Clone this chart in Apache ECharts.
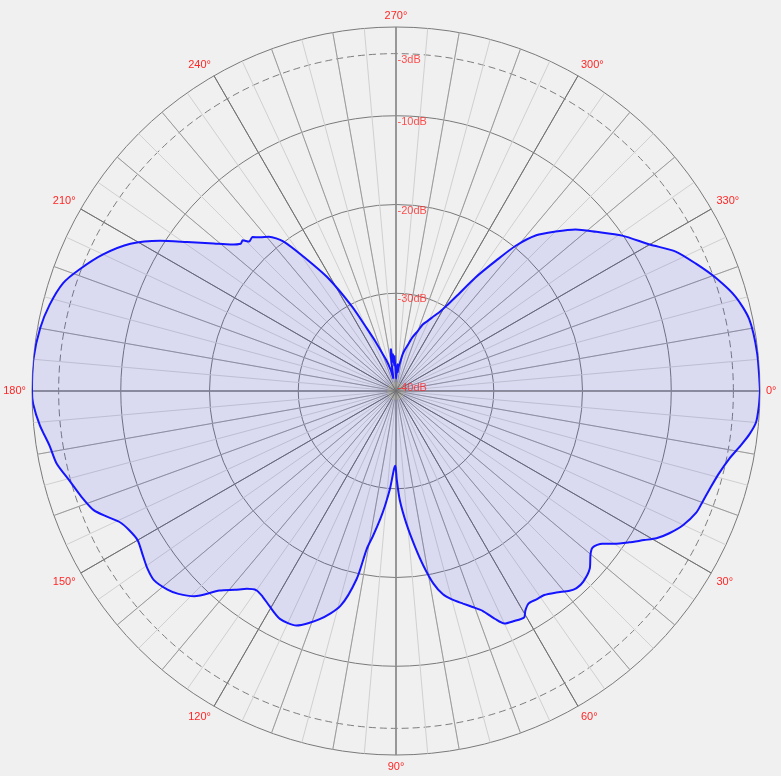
<!DOCTYPE html>
<html><head><meta charset="utf-8">
<script src="https://cdn.jsdelivr.net/npm/echarts@6/dist/echarts.min.js"></script>
<style>html,body{margin:0;padding:0;background:#f0f0f0;}#c{width:781px;height:776px;}</style>
</head><body><div id="c"></div>
<script>
// Measured pattern: angle (degrees, clockwise from right) and level (dB)
const angles = [0,2.5,5,7,9,11.5,14.5,17.5,20,22,25,27.5,29.5,31,33,35,36.5,38.5,40,42.5,45.5,47.5,49,51.5,54,56,58,59.5,60.5,63,65,66.5,68.5,70.5,72.5,75,77,79,81,83,85.5,88,89.5,90.5,91.5,93.5,95.5,97,99,100.5,101.8,104.5,108.5,113,117,120.5,123,125,127,129,131.5,134.5,137,139,142,144.5,147,150,152.5,154.5,156.5,158.5,161.5,164.5,168,171,174.5,178,180,185,190,194,198,201,205,209,212.5,215.5,219,221.5,223.5,224.5,225.5,227,228.5,230.5,233,235.5,239,242.5,245,247.5,250,253,256,258,260,261.5,263,264,265,266.5,267.5,269,270.5,272,273.5,275,276.5,278,280,282,284,287,290,292,294.5,297,299,301,302.5,305,307.5,309.5,312,315,318,321.5,325.5,330,333.5,337,340.5,344.5,348.5,354,360];
const levels = [0,-0.1,-0.3,-0.9,-1.7,-2.7,-3.5,-4.0,-4.3,-4.5,-5.3,-6.3,-7.3,-8.4,-9.7,-11.0,-12.1,-12.7,-12.4,-11.4,-10.9,-10.9,-11.2,-12.0,-12.6,-12.7,-12.8,-12.3,-11.7,-11.9,-12.1,-13.0,-14.4,-15.2,-15.9,-16.7,-17.5,-18.9,-21.0,-23.3,-26.0,-28.7,-31.0,-32.6,-32.2,-30.0,-28.0,-26.5,-24.5,-22.9,-19.4,-16.0,-13.9,-12.3,-12.2,-12.9,-13.4,-13.6,-13.1,-12.2,-11.0,-8.6,-7.5,-6.9,-6.4,-6.6,-7.0,-7.4,-7.1,-6.6,-5.5,-4.4,-3.6,-2.9,-1.9,-1.5,-0.7,-0.1,0,0,-0.3,-0.8,-1.6,-2.8,-4.6,-6.8,-9.5,-12.1,-14.6,-16.1,-16.9,-16.8,-17.4,-17.3,-17.9,-18.5,-19.9,-22.7,-26.2,-30.3,-33.2,-35.0,-36.5,-37.5,-38.6,-39.6,-38.8,-37.2,-36.2,-37.8,-36.8,-38.2,-37.0,-38.8,-39.6,-38.5,-38.0,-38.9,-38.2,-37.8,-36.9,-36.3,-35.8,-34.7,-33.8,-32.9,-32.3,-31.5,-30.8,-29.6,-28.4,-25.4,-22.5,-19.8,-17.4,-15.6,-13.8,-12.2,-10.1,-8.0,-5.8,-4.3,-2.8,-1.3,-0.4,-0.1,0];
const ringLabels = [-3,-10,-20,-30,-40];
const dashedRing = -3;
const ringLabelAngle = 270;
const dbMin = -40, dbMax = 0;

const C = [396, 391], R = 364, R0 = 9;
const RED = '#ff2626';
const FONT = 'Liberation Sans, Arial, sans-serif';

function spokes(idx, step, color, withLabels) {
  return {
    polarIndex: idx, type: 'value', min: 0, max: 360, interval: step,
    startAngle: 0, clockwise: true,
    axisLine: {show: false}, axisTick: {show: false},
    axisLabel: withLabels ? {show: true, formatter: '{value}°', color: RED, fontSize: 11, margin: 6, fontFamily: FONT} : {show: false},
    splitLine: {show: true, lineStyle: {color: color, width: 1}}
  };
}
function hiddenAngle(idx) {
  return {polarIndex: idx, type: 'value', min: 0, max: 360, startAngle: 0, clockwise: true, show: false};
}
const dashColors = [];
for (let v = dbMin; v <= dbMax; v++) dashColors.push(v === dashedRing ? '#7e7e7e' : 'rgba(0,0,0,0)');

const data = angles.map((a, i) => [levels[i], a]);

const option = {
  backgroundColor: '#f0f0f0',
  animation: false,
  polar: [
    {center: C, radius: [0, R]},
    {center: C, radius: [0, R]},
    {center: C, radius: [0, R]},
    {center: C, radius: [R0, R]},
    {center: C, radius: [R0, R]}
  ],
  angleAxis: [
    spokes(0, 5, '#d0d0d0', false),
    spokes(1, 10, '#9c9c9c', false),
    spokes(2, 30, '#707070', true),
    hiddenAngle(3),
    hiddenAngle(4)
  ],
  radiusAxis: [
    {polarIndex: 0, type: 'value', min: dbMin, max: dbMax, show: false},
    {polarIndex: 1, type: 'value', min: dbMin, max: dbMax, show: false},
    {polarIndex: 2, type: 'value', min: dbMin, max: dbMax, show: false},
    {polarIndex: 3, type: 'value', min: dbMin, max: dbMax, interval: 10,
      axisLine: {show: false}, axisTick: {show: false}, axisLabel: {show: false},
      splitLine: {show: true, lineStyle: {color: '#7a7a7a', width: 1}}},
    {polarIndex: 4, type: 'value', min: dbMin, max: dbMax, interval: 1,
      axisLine: {show: false}, axisTick: {show: false}, axisLabel: {show: false},
      splitLine: {show: true, lineStyle: {color: dashColors, width: 1, type: [7, 4]}}}
  ],
  series: [
    {
      type: 'line', coordinateSystem: 'polar', polarIndex: 3,
      data: data, symbol: 'none', smooth: 0.25, silent: true,
      lineStyle: {color: '#1414ff', width: 2},
      areaStyle: {color: 'rgba(0,0,255,0.13)', origin: 'start'},
      z: 3
    },
    {
      type: 'scatter', coordinateSystem: 'polar', polarIndex: 3,
      data: ringLabels.map(v => [v, ringLabelAngle]),
      symbolSize: 1, silent: true,
      itemStyle: {color: 'rgba(0,0,0,0)'},
      label: {show: true, position: 'right', distance: 1, offset: [0, 6],
        formatter: p => p.value[0] + 'dB', color: RED, fontSize: 11, fontFamily: FONT},
      z: 4
    }
  ]
};
const chart = echarts.init(document.getElementById('c'), null, {renderer: 'canvas'});
chart.setOption(option);
</script>
</body></html>
